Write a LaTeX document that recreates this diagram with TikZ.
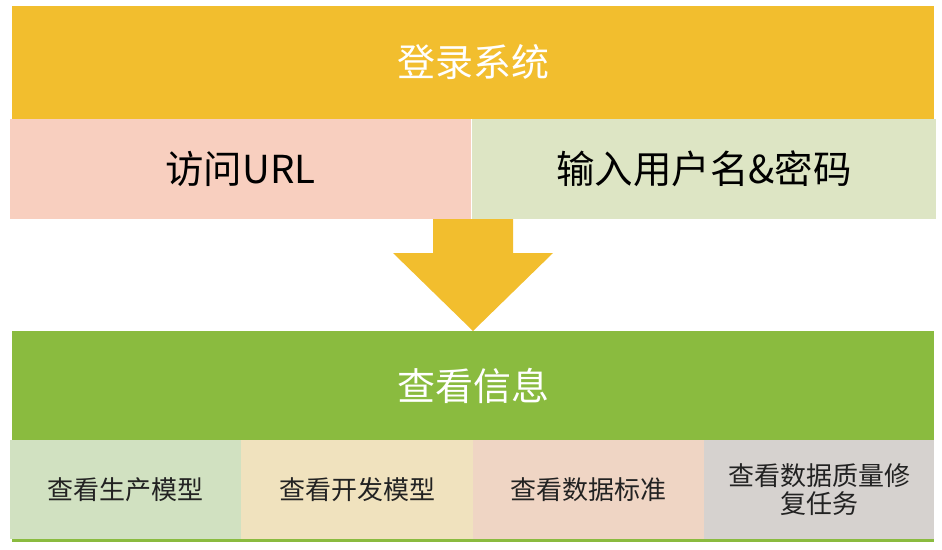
\documentclass[tikz,border=0pt]{standalone}
\usepackage{fontspec}
\setmainfont{Noto Sans CJK SC}
\definecolor{gold}{HTML}{F2BE2E}
\definecolor{pinkbox}{HTML}{F8CFBF}
\definecolor{ltgreen}{HTML}{DDE5C4}
\definecolor{mygreen}{HTML}{8ABB3F}
\definecolor{boxa}{HTML}{D1E1C1}
\definecolor{boxb}{HTML}{F0E2BE}
\definecolor{boxc}{HTML}{EFD5C4}
\definecolor{boxd}{HTML}{D6D2CF}
\definecolor{txt}{HTML}{222222}
\begin{document}
\begin{tikzpicture}[x=1pt,y=-1pt,
  blk/.style={inner sep=0pt,outer sep=0pt,align=center,anchor=north west},
  header/.style={blk,text=white,font=\fontsize{38}{45}\selectfont},
  midbox/.style={blk,text=black,font=\fontsize{38.5}{45}\selectfont},
  lowbox/.style={blk,text=txt,font=\fontsize{26}{31}\selectfont}]
\useasboundingbox (0,0) rectangle (942,549);
% top header
\node[header,fill=gold,minimum width=922pt,minimum height=113pt] (login) at (12,6) {登录系统};
\node[midbox,fill=pinkbox,minimum width=461pt,minimum height=100pt] (url) at (10,119) {访问URL};
\node[midbox,fill=ltgreen,minimum width=464pt,minimum height=100pt] (pwd) at (472,119) {输入用户名\&密码};
% arrow
\coordinate (a1) at (433,219);
\coordinate (a2) at (513,219);
\coordinate (tip) at (473,331);
\fill[gold] (a1) -- (a2) -- (513,253) -- (553,253) -- (tip) -- (393,253) -- (433,253) -- cycle;
% bottom header
\node[header,fill=mygreen,minimum width=922pt,minimum height=109pt] (view) at (12,331) {查看信息};
\node[lowbox,fill=boxa,minimum width=231pt,minimum height=99pt] (b1) at (10,440) {查看生产模型};
\node[lowbox,fill=boxb,minimum width=232pt,minimum height=99pt] (b2) at (241,440) {查看开发模型};
\node[lowbox,fill=boxc,minimum width=231pt,minimum height=99pt] (b3) at (473,440) {查看数据标准};
\node[lowbox,fill=boxd,minimum width=230pt,minimum height=99pt,text width=200pt] (b4) at (704,440) {查看数据质量修\\[-3pt]复任务};
\fill[mygreen] (12,539) rectangle (934,542);
\end{tikzpicture}
\end{document}
